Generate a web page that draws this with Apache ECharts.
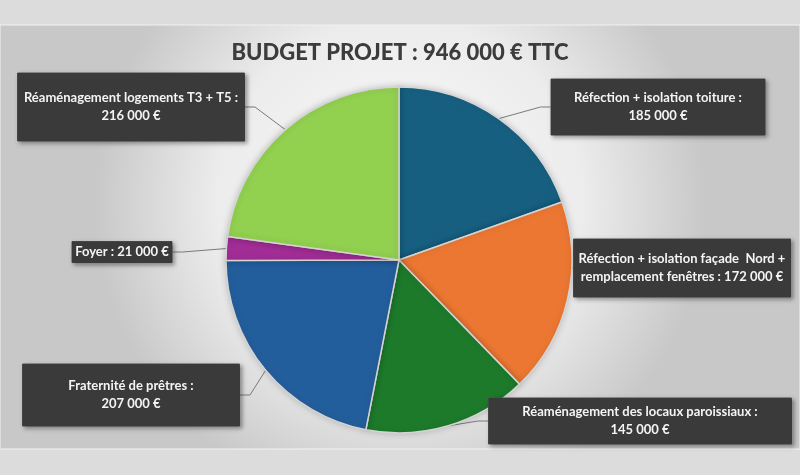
<!DOCTYPE html>
<html lang="fr" style="height: 100%">
<head>
  <meta charset="utf-8">
</head>
<body style="height: 100%; margin: 0; background: #dcdcdc">
  <div id="container" style="width: 800px; height: 475px"></div>

  <script type="text/javascript" src="https://cdn.jsdelivr.net/npm/echarts@6/dist/echarts.min.js"></script>

  <script type="text/javascript">
    var titleText = 'BUDGET PROJET : 946 000 € TTC';

    var postes = [
      'Réfection + isolation toiture',
      'Réfection + isolation façade  Nord +\nremplacement fenêtres',
      'Réaménagement des locaux paroissiaux',
      'Fraternité de prêtres',
      'Foyer',
      'Réaménagement logements T3 + T5'
    ];
    var montants = [185000, 172000, 145000, 207000, 21000, 216000];
    var couleurs = ['#175f80', '#ec7732', '#1d7a2b', '#235e9c', '#a22d96', '#92d050'];

    // where each label box sits (x, y of box centre) and its size
    var boxes = [
      { x: 658, y: 107, w: 214, h: 56 },
      { x: 682, y: 268, w: 217, h: 58 },
      { x: 640, y: 421, w: 303, h: 46 },
      { x: 131, y: 395, w: 217, h: 62 },
      { x: 122, y: 252, w: 100, h: 21 },
      { x: 131, y: 107, w: 227, h: 68 }
    ];

    var FONT = 'Lato, "Open Sans", sans-serif';

    function euro(v) {
      return String(v).replace(/\B(?=(\d{3})+(?!\d))/g, ' ') + ' €';
    }

    var dom = document.getElementById('container');
    var myChart = echarts.init(dom, null, { renderer: 'canvas' });

    var data = postes.map(function (p, i) {
      return {
        name: p,
        value: montants[i],
        itemStyle: { color: couleurs[i] },
        label: {
          width: boxes[i].w,
          height: boxes[i].h,
          formatter: function (params) {
            var n = params.name;
            if (n.indexOf('\n') >= 0 || n.length < 10) return n + ' : ' + euro(params.value);
            return n + ' :\n' + euro(params.value);
          }
        }
      };
    });

    var option = {
      backgroundColor: 'transparent',
      graphic: [
        {
          type: 'rect',
          z: -10,
          shape: { x: 0, y: 25, width: 800, height: 424 },
          style: {
            fill: new echarts.graphic.RadialGradient(0.5, 0.42, 0.72, [
              { offset: 0, color: '#fcfcfc' },
              { offset: 0.6, color: '#ececec' },
              { offset: 1, color: '#c8c8c8' }
            ]),
            stroke: '#f2f2f2',
            lineWidth: 1
          }
        }
      ],
      title: {
        text: titleText,
        left: 'center',
        top: 37,
        textStyle: {
          fontFamily: FONT,
          fontWeight: 900,
          fontSize: 22,
          color: '#3c3c3c'
        }
      },
      series: [
        {
          type: 'pie',
          center: [399, 260],
          radius: 173,
          startAngle: 90,
          clockwise: true,
          silent: true,
          data: data,
          itemStyle: {
            borderColor: '#d4d4d4',
            borderWidth: 1.5,
            shadowBlur: 6,
            shadowColor: 'rgba(0,0,0,0.18)'
          },
          label: {
            show: true,
            position: 'outside',
            color: '#f4f4f4',
            fontFamily: FONT,
            fontWeight: 'bold',
            fontSize: 13,
            lineHeight: 18,
            overflow: 'none',
            align: 'center',
            verticalAlign: 'middle',
            backgroundColor: '#3a3a3a',
            borderColor: '#555555',
            borderWidth: 0.5,
            shadowBlur: 4,
            shadowOffsetX: 2,
            shadowOffsetY: 2,
            shadowColor: 'rgba(0,0,0,0.35)'
          },
          labelLine: {
            show: true,
            length: 10,
            length2: 10,
            lineStyle: { color: '#7a7a7a', width: 1 }
          },
          labelLayout: function (params) {
            var b = boxes[params.dataIndex];
            return {
              x: b.x,
              y: b.y,
              align: 'center',
              verticalAlign: 'middle'
            };
          }
        }
      ]
    };

    myChart.setOption(option);
    window.addEventListener('resize', myChart.resize);
  </script>
</body>
</html>
